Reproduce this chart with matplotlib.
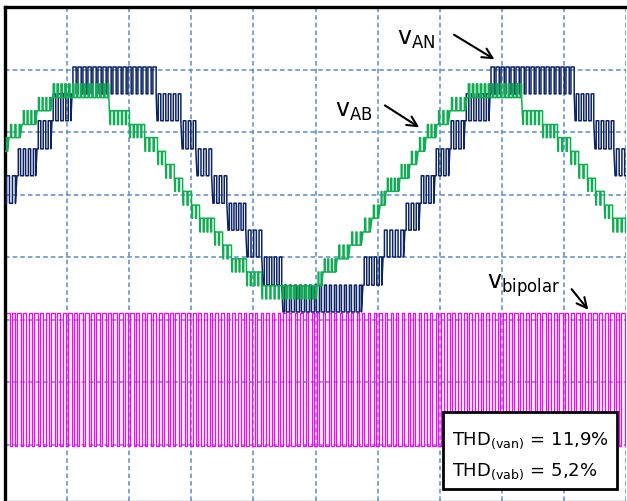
import numpy as np
import matplotlib.pyplot as plt
from matplotlib.patches import Rectangle

# time in ms (2.5 ms/div), amplitude in scope divisions
van_levels = [3.12, 3.55, 4.00, 4.43, 4.86, 5.30, 5.73, 6.18, 6.61, 7.04]
van_edges = [0.0, 0.48, 1.29, 1.89, 2.70, 6.12, 7.13, 7.73, 8.37, 8.98, 9.74, 10.39,
             11.19, 14.41, 15.22, 16.10, 16.71, 17.31, 17.91, 18.52, 19.53, 22.95,
             23.75, 24.56, 25.0]
van_lo = [4, 5, 6, 7, 8, 7, 6, 5, 4, 3, 2, 1, 0, 1, 2, 3, 4, 5, 6, 7, 8, 7, 6, 5]
van_duty = [0.5, 0.45, 0.5, 0.5, 0.65, 0.5, 0.5, 0.5, 0.5, 0.5, 0.5, 0.5,
            0.4, 0.5, 0.5, 0.5, 0.5, 0.5, 0.5, 0.5, 0.65, 0.5, 0.5, 0.5]

vab_levels = [3.33, 3.54, 3.76, 3.97, 4.19, 4.40, 4.62, 4.83, 5.05, 5.26, 5.48,
              5.69, 5.91, 6.12, 6.34, 6.55, 6.77]
vab_edges = [0.0, 0.16, 0.68, 1.29, 1.89, 4.23, 5.03, 5.64, 6.16, 6.48, 6.84, 7.17,
             7.53, 7.85, 8.45, 8.78, 9.14, 9.74, 10.35, 11.19, 12.56, 12.80, 13.37,
             13.89, 14.41, 14.77, 15.10, 15.34, 15.90, 16.30, 16.63, 16.95, 17.39,
             17.91, 18.60, 20.85, 21.66, 22.26, 22.79, 23.11, 23.47, 23.79, 24.15,
             24.48, 25.0]
vab_lo = [11, 12, 13, 14, 15, 13, 12, 11, 10, 9, 8, 7, 6, 5, 4, 3, 2, 1, 0, 0,
          1, 2, 3, 4, 5, 6, 7, 8, 9, 10, 11, 12, 13, 14, 15, 13, 12, 11, 10, 9,
          8, 7, 6, 5]
vab_duty = [0.25] * 4 + [0.35] + [0.75] * 14 + [0.6] + [0.25] * 14 + [0.35] + [0.75] * 9

bip_levels = [0.98, 3.10]
bip_edges = [0.0, 2.5, 5.0, 7.5, 10.0, 12.5, 15.0, 17.5, 20.0, 22.5, 25.0]
bip_lo = [0] * 10
bip_duty = [0.6, 0.65, 0.6, 0.5, 0.4, 0.35, 0.4, 0.5, 0.6, 0.6]


def pwm(edges, lo, duty, levels, period):
    t, y = [], []
    for t0, t1, k, d in zip(edges[:-1], edges[1:], lo, duty):
        n = max(1, int(round((t1 - t0) / period)))
        p = (t1 - t0) / n
        for i in range(n):
            a = t0 + i * p
            s = a + (1 - d) * p / 2
            e = s + d * p
            t += [a, s, s, e, e]
            y += [levels[k], levels[k], levels[k + 1], levels[k + 1], levels[k]]
    t.append(edges[-1])
    y.append(levels[lo[-1]])
    return t, y


fig = plt.figure(figsize=(6.27, 5.02), dpi=100)
ax = fig.add_axes([5 / 627, 0, 621 / 627, 494 / 502])
ax.set_xlim(0, 25)
ax.set_ylim(0.096, 8)

for xv in np.arange(2.5, 25.1, 2.5):
    ax.axvline(xv, color='#5b8bc9', lw=1.1, ls=(0, (3, 2)), zorder=0)
for yv in range(1, 8):
    ax.axhline(yv, color='#5b8bc9', lw=1.1, ls=(0, (3, 2)), zorder=0)

t, y = pwm(bip_edges, bip_lo, bip_duty, bip_levels, 0.22)
ax.plot(t, y, color='#ff00ff', lw=0.9, zorder=2)
t, y = pwm(van_edges, van_lo, van_duty, van_levels, 0.2)
ax.plot(t, y, color='#0c2466', lw=1.1, zorder=3)
t, y = pwm(vab_edges, vab_lo, vab_duty, vab_levels, 0.16)
ax.plot(t, y, color='#0fae52', lw=1.1, zorder=4)

ax.set_xticks([])
ax.set_yticks([])
for s in ['left', 'top']:
    ax.spines[s].set_linewidth(2.4)
    ax.spines[s].set_color('black')
ax.spines['right'].set_visible(False)
ax.spines['bottom'].set_color('#888888')
ax.spines['bottom'].set_linewidth(1.0)

arrow = dict(arrowstyle='->', color='black', lw=1.5, mutation_scale=18)
ax.annotate('', xy=(19.8, 7.14), xytext=(17.98, 7.58), arrowprops=arrow, zorder=6)
ax.annotate('', xy=(16.77, 6.05), xytext=(15.2, 6.45), arrowprops=arrow, zorder=6)
ax.annotate('', xy=(23.55, 3.12), xytext=(22.74, 3.52), arrowprops=arrow, zorder=6)

ax.text(15.8, 7.5, r'v$_{\rm AN}$', fontsize=17, ha='left', va='center', zorder=6)
ax.text(13.3, 6.35, r'v$_{\rm AB}$', fontsize=17, ha='left', va='center', zorder=6)
ax.text(19.4, 3.55, r'v$_{\rm bipolar}$', fontsize=17, ha='left', va='center', zorder=6)

ax.add_patch(Rectangle((17.62, 0.29), 7.02, 1.23, facecolor='white',
                       edgecolor='black', lw=2.0, zorder=7))
ax.text(18.0, 1.07, r'THD$_{\rm (van)}$ = 11,9%', fontsize=13, va='center', zorder=8)
ax.text(18.0, 0.58, r'THD$_{\rm (vab)}$ = 5,2%', fontsize=13, va='center', zorder=8)

fig.savefig('out.png', dpi=100)
